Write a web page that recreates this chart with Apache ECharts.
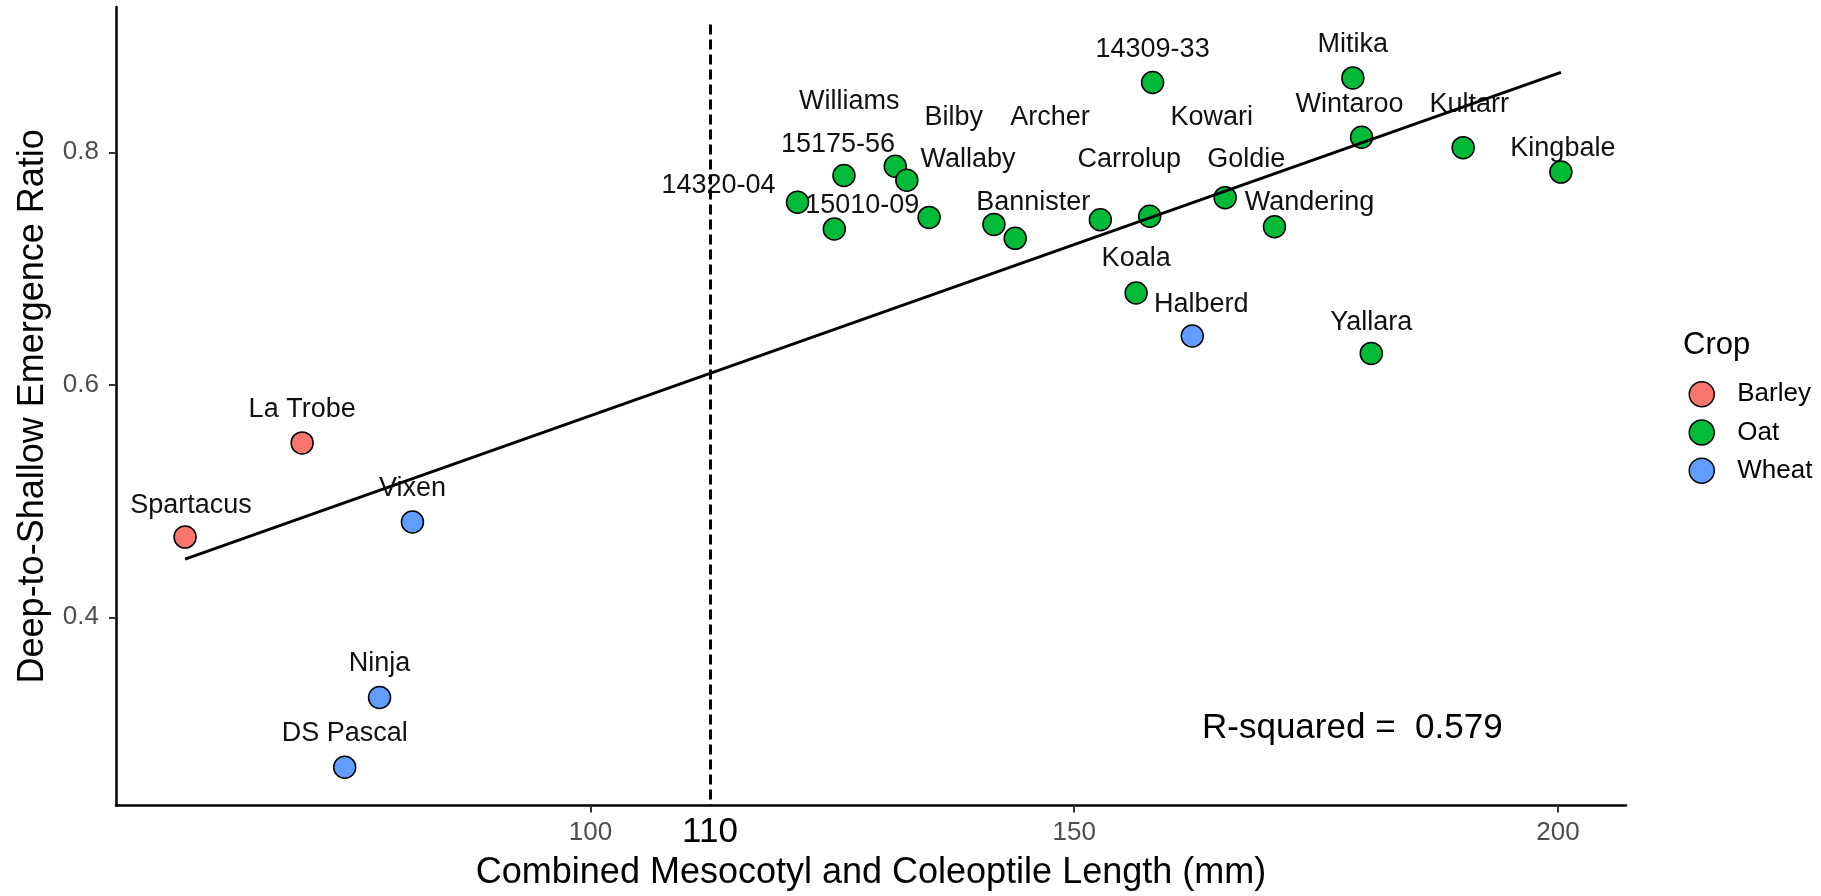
<!DOCTYPE html>
<html>
<head>
<meta charset="utf-8">
<script src="https://cdn.jsdelivr.net/npm/echarts@6/dist/echarts.min.js"></script>
<style>
  html, body { margin: 0; padding: 0; background: #fff; }
  #chart { width: 1821px; height: 896px; }
</style>
</head>
<body>
<div id="chart"></div>
<script>
// ---- data ----
const varieties = ['Spartacus','La Trobe','Vixen','Ninja','DS Pascal','Halberd',
  '14320-04','15175-56','15010-09','Williams','Bilby','Wallaby','Archer','Bannister',
  'Carrolup','Kowari','14309-33','Goldie','Koala','Mitika','Wintaroo','Kultarr',
  'Kingbale','Wandering','Yallara'];
const crops = ['Barley','Barley','Wheat','Wheat','Wheat','Wheat',
  'Oat','Oat','Oat','Oat','Oat','Oat','Oat','Oat',
  'Oat','Oat','Oat','Oat','Oat','Oat','Oat','Oat',
  'Oat','Oat','Oat'];
const lengthMM = [58.1, 70.2, 81.6, 78.2, 74.6, 162.2,
  121.4, 126.2, 125.2, 131.5, 132.7, 135.0, 141.7, 143.9,
  152.7, 157.8, 158.1, 165.6, 156.4, 178.8, 179.7, 190.2,
  200.3, 170.7, 180.7];
const ratio = [0.469, 0.550, 0.482, 0.331, 0.271, 0.642,
  0.757, 0.780, 0.734, 0.788, 0.776, 0.744, 0.738, 0.726,
  0.742, 0.745, 0.860, 0.761, 0.679, 0.864, 0.813, 0.804,
  0.783, 0.736, 0.627];
const cropLevels = ['Barley','Oat','Wheat'];
const xTicks = [100, 150, 200];
const yTicks = [0.4, 0.6, 0.8];
const cutoffX = 112.35;
const cutoffLabel = '110';
const rSquaredText = 'R-squared =  0.579';

// ---- layout / style (not data) ----
const FONT = '"Liberation Sans", Arial, Helvetica, sans-serif';
const cropColors = { Barley: '#F8766D', Oat: '#00BA38', Wheat: '#619CFF' };
const xMin = 50.96, xMax = 207.03, yMin = 0.238, yMax = 0.925, cutoffTop = 0.91;
const labelNudge = {
  'Spartacus':[6,-32], 'La Trobe':[0,-33], 'Vixen':[0,-33], 'Ninja':[0,-34],
  'DS Pascal':[0,-34], 'Halberd':[9,-31], '14320-04':[-79,-17], '15175-56':[-6,-31],
  '15010-09':[28,-23], 'Williams':[-46,-65], 'Bilby':[47,-63], 'Wallaby':[39,-58],
  'Archer':[56,-107], 'Bannister':[18,-36], 'Carrolup':[29,-60], 'Kowari':[62,-99],
  '14309-33':[0,-33], 'Goldie':[21,-38], 'Koala':[0,-34], 'Mitika':[0,-33],
  'Wintaroo':[-12,-33], 'Kultarr':[6,-43], 'Kingbale':[2,-24], 'Wandering':[35,-24],
  'Yallara':[0,-31]
};

// ---- least-squares fit from the data ----
const n = lengthMM.length;
const mx = lengthMM.reduce((a, b) => a + b, 0) / n;
const my = ratio.reduce((a, b) => a + b, 0) / n;
let sxy = 0, sxx = 0;
for (let i = 0; i < n; i++) { sxy += (lengthMM[i] - mx) * (ratio[i] - my); sxx += (lengthMM[i] - mx) ** 2; }
const slope = sxy / sxx, intercept = my - slope * mx;
const fitX0 = Math.min(...lengthMM), fitX1 = Math.max(...lengthMM);

const scatterSeries = cropLevels.map(c => {
  const idx = varieties.map((v, i) => i).filter(i => crops[i] === c);
  return {
    name: c,
    type: 'scatter',
    z: 2,
    symbol: 'circle',
    symbolSize: 22,
    itemStyle: { color: cropColors[c], borderColor: '#000', borderWidth: 1.5, opacity: 1 },
    label: {
      show: true,
      position: 'inside',
      fontSize: 27,
      fontFamily: FONT,
      color: '#111',
      formatter: p => p.name
    },
    labelLayout: p => {
      const nm = varieties[idx[p.dataIndex]];
      const off = labelNudge[nm] || [0, -33];
      return { dx: off[0], dy: off[1], hideOverlap: false };
    },
    data: idx.map(i => ({ name: varieties[i], value: [lengthMM[i], ratio[i]] }))
  };
});

const option = {
  animation: false,
  backgroundColor: '#fff',
  textStyle: { fontFamily: FONT },
  grid: { left: 116, right: 195, top: 7, bottom: 88, containLabel: false },
  xAxis: {
    type: 'value', min: xMin, max: xMax,
    name: 'Combined Mesocotyl and Coleoptile Length (mm)',
    nameLocation: 'middle', nameGap: 46,
    nameTextStyle: { fontSize: 36, color: '#000', fontFamily: FONT },
    axisLine: { show: true, onZero: false, lineStyle: { color: '#000', width: 2.5 } },
    axisTick: { show: true, customValues: xTicks, length: 7, lineStyle: { color: '#333', width: 2 } },
    axisLabel: {
      customValues: xTicks.concat([cutoffX]),
      margin: 7,
      formatter: v => Math.abs(v - cutoffX) < 1e-6 ? '{big|' + cutoffLabel + '}' : '{n|' + v + '}',
      rich: {
        n: { fontSize: 26, color: '#4D4D4D', lineHeight: 40, fontFamily: FONT },
        big: { fontSize: 35, color: '#000', lineHeight: 40, fontFamily: FONT }
      }
    },
    splitLine: { show: false }
  },
  yAxis: {
    type: 'value', min: yMin, max: yMax,
    name: 'Deep-to-Shallow Emergence Ratio',
    nameLocation: 'middle', nameGap: 65,
    nameTextStyle: { fontSize: 36, color: '#000', fontFamily: FONT },
    axisLine: { show: true, onZero: false, lineStyle: { color: '#000', width: 2.5 } },
    axisTick: { show: true, customValues: yTicks, length: 7, lineStyle: { color: '#333', width: 2 } },
    axisLabel: {
      customValues: yTicks, margin: 17, fontSize: 26, color: '#4D4D4D',
      formatter: v => v.toFixed(1)
    },
    splitLine: { show: false }
  },
  legend: {
    data: cropLevels,
    orient: 'vertical',
    left: 1688.5, top: 381, padding: 0,
    itemWidth: 25, itemHeight: 25, itemGap: 11.7,
    icon: 'circle',
    textStyle: { fontSize: 26, color: '#000', lineHeight: 25, fontFamily: FONT, padding: [0, 0, 0, 18] },
    itemStyle: { borderColor: '#000', borderWidth: 1.5 }
  },
  graphic: [
    { type: 'text', x: 1683, y: 345, style: { text: 'Crop', fontSize: 31, fontFamily: FONT, fill: '#000', align: 'left', verticalAlign: 'middle' } },
    { type: 'text', x: 1202, y: 728, style: { text: rSquaredText, fontSize: 35, fontFamily: FONT, fill: '#000', align: 'left', verticalAlign: 'middle' } }
  ],
  series: scatterSeries.concat([{
    name: 'fit',
    type: 'line',
    z: 3,
    silent: true,
    symbol: 'none',
    lineStyle: { color: '#000', width: 3 },
    data: [[fitX0, intercept + slope * fitX0], [fitX1, intercept + slope * fitX1]],
    markLine: {
      silent: true,
      symbol: 'none',
      label: { show: false },
      lineStyle: { color: '#000', width: 3, type: [10, 5] },
      data: [[{ coord: [cutoffX, cutoffTop] }, { coord: [cutoffX, yMin] }]]
    }
  }])
};

const chart = echarts.init(document.getElementById('chart'), null, { renderer: 'canvas' });
chart.setOption(option);
</script>
</body>
</html>
